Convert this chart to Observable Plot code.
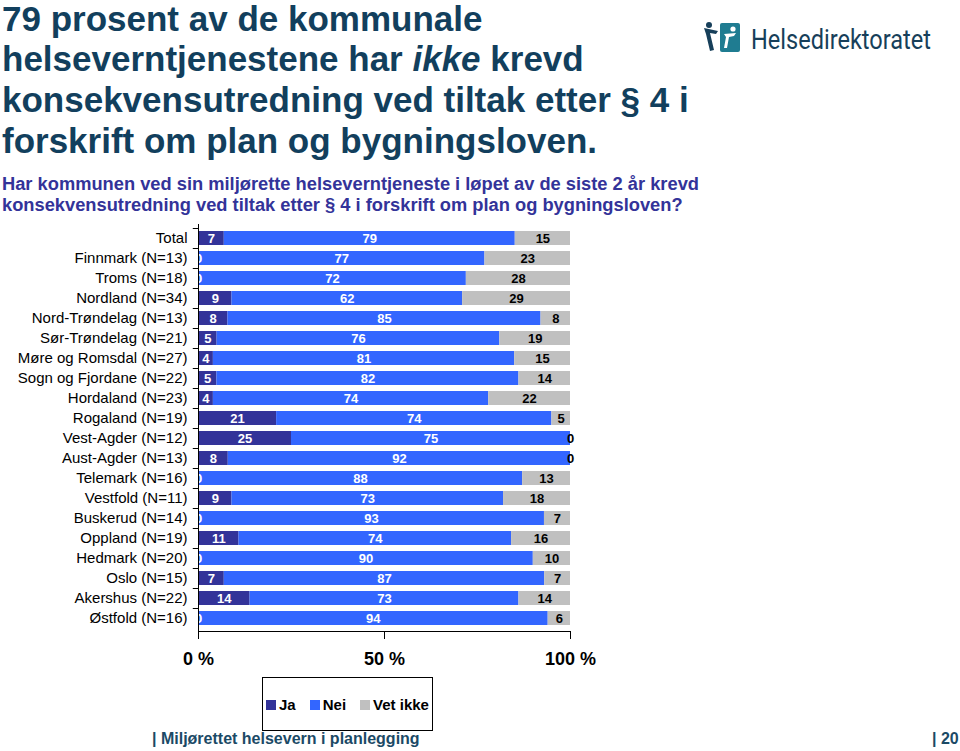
<!DOCTYPE html>
<html>
<head>
<meta charset="utf-8">
<script src="https://cdn.jsdelivr.net/npm/d3@7"></script>
<script src="https://cdn.jsdelivr.net/npm/@observablehq/plot@0.6"></script>
<style>
  html, body { margin: 0; padding: 0; background: #fff; }
  body { width: 960px; height: 751px; position: relative; overflow: hidden; font-family: "Liberation Sans", Arial, sans-serif; }
  .title { position: absolute; left: 2px; top: -1.5px; font-size: 35px; font-weight: bold; line-height: 40.8px; color: #123f5d; }
  .subtitle { position: absolute; left: 2px; top: 174px; font-size: 18.3px; font-weight: bold; line-height: 20.5px; color: #333399; }
  #chart { position: absolute; left: 0; top: 210px; }
  .legend { position: absolute; left: 262px; top: 677px; width: 171px; height: 54px; border: 1px solid #000; box-sizing: border-box; display: flex; align-items: center; justify-content: center; gap: 14px; font-size: 15px; font-weight: bold; }
  .legend span.sw { display: inline-block; width: 10px; height: 10px; margin-right: 3px; vertical-align: 0px; }
  .footer { position: absolute; top: 730px; font-size: 16px; font-weight: bold; color: #1b4a66; }
  .logo { position: absolute; left: 700px; top: 18px; }
</style>
</head>
<body>
<div class="title">79 prosent av de kommunale<br>helseverntjenestene har <i>ikke</i> krevd<br>konsekvensutredning ved tiltak etter § 4 i<br>forskrift om plan og bygningsloven.</div>
<div class="subtitle">Har kommunen ved sin miljørette helseverntjeneste i løpet av de siste 2 år krevd<br>konsekvensutredning ved tiltak etter § 4 i forskrift om plan og bygningsloven?</div>
<svg class="logo" width="250" height="40" viewBox="0 0 250 40">
  <circle cx="9" cy="7" r="3" fill="#173f5a"/>
  <path d="M4 10 L18 13 L16 16 L10 15 L14 32 L10 33 L6 16 Z" fill="#173f5a"/>
  <rect x="20" y="5" width="20" height="29" rx="2" fill="#1f7c91"/>
  <circle cx="33" cy="11" r="2.6" fill="#fff"/>
  <path d="M24 16 L36 15 L34 18 L29 19 L27 30 L24 30 L26 19 Z" fill="#fff"/>
  <text id="logotext" x="0" y="0" transform="translate(51,31) scale(1,1.25)" font-family="Roboto, 'DejaVu Sans', sans-serif" font-size="22" fill="#173f5a">Helsedirektoratet</text>
</svg>
<div id="chart"></div>
<div class="legend">
  <div><span class="sw" style="background:#333399"></span>Ja</div>
  <div><span class="sw" style="background:#3366ff"></span>Nei</div>
  <div><span class="sw" style="background:#c0c0c0"></span>Vet ikke</div>
</div>
<div class="footer" style="left:152px">| Miljørettet helsevern i planlegging</div>
<div class="footer" style="left:932px">| 20</div>
<script>
const regions = ["Total","Finnmark (N=13)","Troms (N=18)","Nordland (N=34)","Nord-Trøndelag (N=13)","Sør-Trøndelag (N=21)","Møre og Romsdal (N=27)","Sogn og Fjordane (N=22)","Hordaland (N=23)","Rogaland (N=19)","Vest-Agder (N=12)","Aust-Agder (N=13)","Telemark (N=16)","Vestfold (N=11)","Buskerud (N=14)","Oppland (N=19)","Hedmark (N=20)","Oslo (N=15)","Akershus (N=22)","Østfold (N=16)"];
const ja      = [7,0,0,9,8,5,4,5,4,21,25,8,0,9,0,11,0,7,14,0];
const nei     = [79,77,72,62,85,76,81,82,74,74,75,92,88,73,93,74,90,87,73,94];
const vetIkke = [15,23,28,29,8,19,15,14,22,5,0,0,13,18,7,16,10,7,14,6];
const answers = ["Ja","Nei","Vet ikke"];
const colors = ["#333399","#3366ff","#c0c0c0"];
const xTicks = [0, 0.5, 1];

// fit logo text width
const lt = document.getElementById("logotext");
const lw = lt.getComputedTextLength();
if (lw > 0) lt.setAttribute("transform", `translate(51,31) scale(${Math.min(1.3, 180 / lw)},1.25)`);

const data = [];
regions.forEach((r, i) => {
  data.push({region: r, answer: "Ja", value: ja[i]});
  data.push({region: r, answer: "Nei", value: nei[i]});
  data.push({region: r, answer: "Vet ikke", value: vetIkke[i]});
});

const stackOpts = {x: "value", y: "region", z: "answer", order: answers, offset: "normalize"};

const plot = Plot.plot({
  width: 600,
  height: 470,
  marginLeft: 198,
  marginRight: 30,
  marginTop: 14,
  marginBottom: 49,
  style: {fontFamily: "'Liberation Sans', Arial, sans-serif", color: "#000", background: "transparent"},
  x: {domain: [0, 1]},
  y: {domain: regions, padding: 0.3},
  color: {domain: answers, range: colors},
  marks: [
    Plot.barX(data, Plot.stackX({...stackOpts, fill: "answer"})),
    Plot.text(data, Plot.stackX({...stackOpts, text: d => d.answer !== "Vet ikke" ? String(d.value) : "", fill: "white", fontSize: 13, fontWeight: "bold"})),
    Plot.text(data, Plot.stackX({...stackOpts, text: d => d.answer === "Vet ikke" ? String(d.value) : "", fill: "black", fontSize: 13, fontWeight: "bold"})),
    Plot.ruleX([0], {stroke: "#000"}),
    Plot.ruleY(regions, {y: d => d, x1: -0.014, x2: 0, dy: -10, stroke: "#000", clip: false}),
    Plot.frame({anchor: "bottom", stroke: "#000"}),
    Plot.axisY({tickSize: 0, tickPadding: 11, fontSize: 15, label: null}),
    Plot.axisX({ticks: xTicks, tickSize: 8, tickPadding: 13, fontSize: 18, fontWeight: "bold", tickFormat: d => Math.round(d * 100) + " %", label: null})
  ]
});
document.getElementById("chart").appendChild(plot);
</script>
</body>
</html>
